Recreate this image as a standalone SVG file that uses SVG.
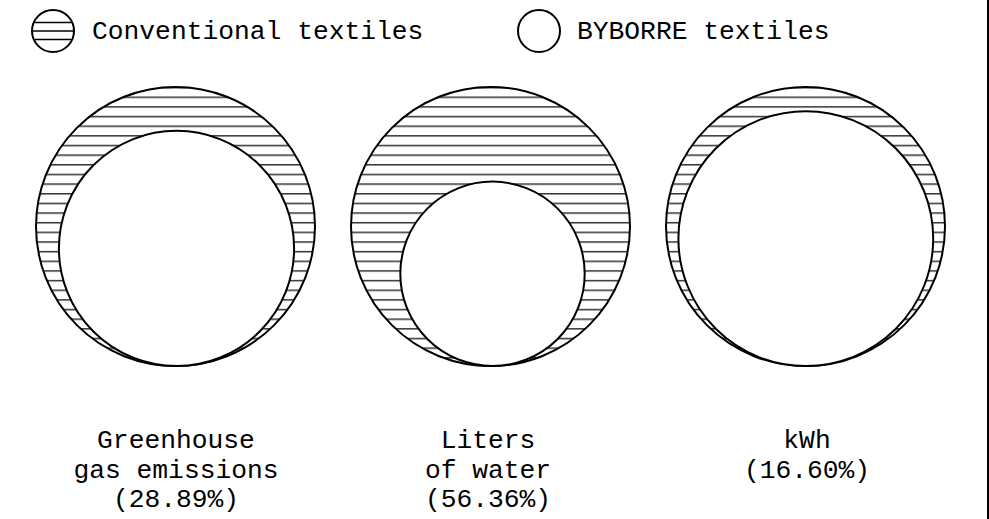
<svg xmlns="http://www.w3.org/2000/svg" width="989" height="519" viewBox="0 0 989 519">
  <defs>
    <pattern id="hatch" patternUnits="userSpaceOnUse" x="0" y="0" width="60" height="9.65">
      <rect x="0" y="0" width="60" height="9.65" fill="#fff"/>
      <rect x="0" y="0.2" width="60" height="1.2" fill="#000"/>
    </pattern>
  </defs>
  <style>
    .outer { fill: url(#hatch); stroke: #000; stroke-width: 2; }
    .inner { fill: #fff; stroke: #000; stroke-width: 2; }
    .icon { fill: #fff; stroke: #000; stroke-width: 2; }
    .hl { stroke: #000; stroke-width: 1.5; }
    text { font-family: "Liberation Mono", "DejaVu Sans Mono", monospace; font-size: 26.3px; fill: #000; }
    .lbl { text-anchor: middle; }
  </style>
  <rect width="989" height="519" fill="#fff"/>
  <line x1="988" y1="0" x2="988" y2="519" stroke="#000" stroke-width="2"/>

  <g id="legend-conventional">
    <circle class="icon" cx="53" cy="31" r="21"/>
    <line class="hl" x1="34.5" y1="22.5" x2="71.5" y2="22.5"/>
    <line class="hl" x1="32" y1="31" x2="74" y2="31"/>
    <line class="hl" x1="34.5" y1="39.5" x2="71.5" y2="39.5"/>
    <text x="92" y="39">Conventional textiles</text>
  </g>
  <g id="legend-byborre">
    <circle class="icon" cx="539" cy="31" r="21"/>
    <text x="577" y="39">BYBORRE textiles</text>
  </g>

  <g id="greenhouse">
    <circle class="outer" cx="175.5" cy="226.5" r="139.5"/>
    <circle class="inner" cx="176.5" cy="248.4" r="117.6"/>
    <text class="lbl" x="176" y="448">Greenhouse</text>
    <text class="lbl" x="176" y="477.5">gas emissions</text>
    <text class="lbl" x="176" y="507">(28.89%)</text>
  </g>

  <g id="water">
    <circle class="outer" cx="490.5" cy="226.5" r="139.5"/>
    <circle class="inner" cx="492.5" cy="273.8" r="92.2"/>
    <text class="lbl" x="488" y="448">Liters</text>
    <text class="lbl" x="488" y="477.5">of water</text>
    <text class="lbl" x="488" y="507">(56.36%)</text>
  </g>

  <g id="kwh">
    <circle class="outer" cx="805.5" cy="226.5" r="139.5"/>
    <circle class="inner" cx="805.8" cy="238.6" r="127.4"/>
    <text class="lbl" x="807" y="448">kWh</text>
    <text class="lbl" x="807" y="477.5">(16.60%)</text>
  </g>

  <g id="connectors"/>
</svg>
